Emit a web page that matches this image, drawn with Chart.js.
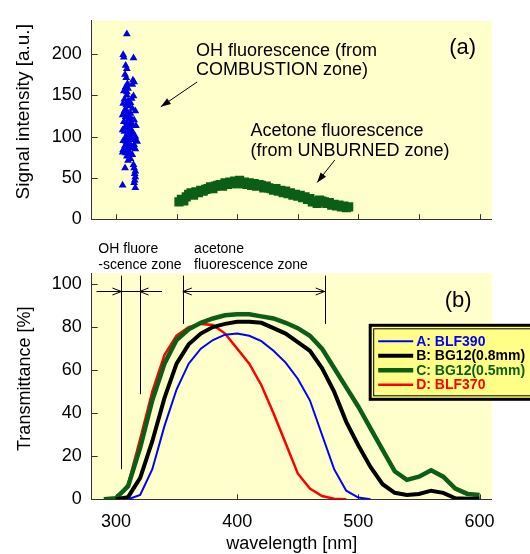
<!DOCTYPE html>
<html>
<head>
<meta charset="utf-8">
<script src="https://cdn.jsdelivr.net/npm/chart.js@4"></script>
<style>
  body { margin: 0; background: #fff; }
  #wrap { position: relative; width: 530px; height: 554px; overflow: hidden; }
  canvas { position: absolute; left: 0; }
  #chartA { top: 0; }
  #chartB { top: 240px; }
</style>
</head>
<body>
<div id="wrap">
  <canvas id="chartA" width="530" height="240"></canvas>
  <canvas id="chartB" width="530" height="314"></canvas>
</div>
<script>
// (a) OH fluorescence points (wavelength nm, signal a.u.)
const ohNm = [309, 306, 306.5, 314.5, 308, 309, 307.5, 308.5, 314, 315, 313.5, 309.5, 308, 310, 306.5, 309,
  314.5, 313, 307, 310, 306, 308.5, 311, 313.5, 316, 307, 309.5, 312, 305.5, 308, 310.5, 313, 315, 306.5,
  309, 311.5, 314, 316.5, 308, 310, 312.5, 305.5, 307, 309.5, 311, 314, 316, 308, 310.5, 313, 306, 317.5,
  309, 311.5, 315, 307.5, 310, 312.5, 316, 306, 305.5, 308, 311, 313.5, 309, 312, 310, 314.5, 307.5, 315,
  316, 315.5, 316, 315.5, 315, 305.5, 316, 310.5, 313, 308.5, 311, 313.5, 309, 311, 308, 312, 309, 311,
  314.5, 309.5];
const ohVal = [224, 199, 196, 195, 186, 182, 175, 171, 168, 166, 163, 164, 160, 158, 155, 154,
  149, 146, 145, 143, 140, 138, 137, 134, 131, 131, 129, 128, 126, 124, 122, 121, 120, 118,
  117, 116, 114, 113, 112, 110, 108, 108, 106, 104, 103, 102, 100, 99, 97, 96, 95, 94,
  92, 91, 90, 89, 87, 86, 85, 84, 81, 80, 79, 78, 76, 73, 71, 66, 62, 62,
  58, 55, 51, 47, 44, 41, 38, 83, 88, 94, 100, 106, 114, 124, 133, 141, 150, 112,
  97, 86];

// (a) acetone fluorescence points
const acNm = [352, 354, 356, 358, 360, 362, 364, 366, 368, 370, 372, 374, 376, 378, 380, 382, 384, 386, 388,
  390, 392, 394, 396, 398, 400, 402, 404, 406, 408, 410, 412, 414, 416, 418, 420, 422, 424, 426, 428,
  430, 432, 434, 436, 438, 440, 442, 444, 446, 448, 450, 452, 454, 456, 458, 460, 462, 464, 466, 468,
  470, 472, 474, 476, 478, 480, 482, 484, 486, 488, 490, 492];
const acVal = [21, 24, 22, 27, 30, 32, 29, 33, 32, 35, 34, 36, 37, 39, 37, 40, 41, 42, 40,
  44, 42, 45, 43, 46, 43, 47, 43, 45, 42, 44, 41, 43, 40, 42, 41, 38, 40, 38, 37,
  35, 37, 34, 35, 32, 34, 31, 32, 29, 30, 28, 29, 26, 27, 24, 25, 21, 22, 19, 23,
  22, 21, 19, 20, 17, 18, 16, 17, 15, 16, 14, 15];

// (b) filter transmittance curves
const wavelengths = [290, 300, 310, 320, 330, 340, 350, 360, 370, 380, 390, 400, 410, 420, 430, 440,
  450, 460, 470, 480, 490, 500, 510, 520, 530, 540, 550, 560, 570, 580, 590, 600];
const filterLabels = ['A: BLF390', 'B: BG12(0.8mm)', 'C: BG12(0.5mm)', 'D: BLF370'];
const blf390 = [null, null, 0, 2, 14, 34, 51, 63, 70, 74, 76.5, 77, 76, 73.5, 69, 63.5,
  56, 46, 30, 14, 4, 0.8, 0, null, null, null, null, null, null, null, null, null];
const bg12thick = [null, 0, 1, 10, 27, 47, 63, 72, 77, 80, 81.5, 82.5, 82.5, 82, 79.5, 77,
  73, 69, 61, 50, 36, 25, 15, 7, 3, 2, 2.5, 4, 3, 0.5, 0.3, 0.3];
const bg12thin = [0, 0.5, 6, 24, 46, 63, 74, 79, 82, 84, 85.5, 86, 86, 85, 84, 82,
  79.5, 76, 70, 61, 52, 43, 33, 23, 13, 9, 10.5, 13.5, 10.5, 5, 2.5, 2];
const blf370 = [null, 0, 7, 28, 50, 67, 76, 80, 81.5, 81, 77, 70, 63, 53, 40, 26,
  12, 5, 1.5, 0.3, 0, null, null, null, null, null, null, null, null, null, null, null];

const xTicksA = [300, 350, 400, 450, 500, 550, 600];
const xTicksB = [300, 400, 500, 600];

Chart.defaults.font.family = '"Liberation Sans", Arial, sans-serif';
Chart.defaults.color = '#000';

const FONT = '"Liberation Sans", Arial, sans-serif';
const AXIS = '#333';

function pts(xs, ys) {
  const out = [];
  xs.forEach((x, i) => { if (ys[i] !== null) out.push({ x: x, y: ys[i] }); });
  return out;
}

// light yellow plot area
const plotBg = {
  id: 'plotBg',
  beforeDraw(chart) {
    const { ctx, chartArea: a } = chart;
    ctx.save();
    ctx.fillStyle = '#ffffcc';
    ctx.fillRect(a.left, a.top, a.right - a.left, a.bottom - a.top);
    ctx.restore();
  }
};

// tick marks pointing into the plot
const innerTicks = {
  id: 'innerTicks',
  beforeDatasetsDraw(chart) {
    const { ctx, chartArea: a, scales } = chart;
    ctx.save();
    ctx.strokeStyle = AXIS;
    ctx.lineWidth = 1;
    scales.y.ticks.forEach(t => {
      const py = Math.round(scales.y.getPixelForValue(t.value)) + 0.5;
      ctx.beginPath(); ctx.moveTo(a.left, py); ctx.lineTo(a.left + 6, py); ctx.stroke();
    });
    scales.x.ticks.forEach(t => {
      const px = Math.round(scales.x.getPixelForValue(t.value)) + 0.5;
      ctx.beginPath(); ctx.moveTo(px, a.bottom); ctx.lineTo(px, a.bottom - 5); ctx.stroke();
    });
    ctx.restore();
  }
};

// rotated y axis title, centred on a chosen value
const yTitle = {
  id: 'yTitle',
  afterDraw(chart, args, opts) {
    const { ctx, scales: { y } } = chart;
    ctx.save();
    ctx.translate(opts.left, y.getPixelForValue(opts.at));
    ctx.rotate(-Math.PI / 2);
    ctx.font = opts.size + 'px ' + FONT;
    ctx.fillStyle = '#000';
    ctx.textAlign = 'center'; ctx.textBaseline = 'middle';
    ctx.fillText(opts.text, 0, 0);
    ctx.restore();
  }
};

function arrowFilled(ctx, x1, y1, x2, y2) {
  const ang = Math.atan2(y2 - y1, x2 - x1);
  ctx.beginPath(); ctx.moveTo(x1, y1); ctx.lineTo(x2, y2); ctx.stroke();
  ctx.beginPath();
  ctx.moveTo(x2, y2);
  ctx.lineTo(x2 - 10 * Math.cos(ang) + 3.5 * Math.sin(ang), y2 - 10 * Math.sin(ang) - 3.5 * Math.cos(ang));
  ctx.lineTo(x2 - 10 * Math.cos(ang) - 3.5 * Math.sin(ang), y2 - 10 * Math.sin(ang) + 3.5 * Math.cos(ang));
  ctx.closePath(); ctx.fill();
}

function openHead(ctx, x, y, dir) {
  ctx.beginPath();
  ctx.moveTo(x - dir * 9, y - 3.5); ctx.lineTo(x, y); ctx.lineTo(x - dir * 9, y + 3.5);
  ctx.stroke();
}

// annotations for (a): text anchored in data units
const notesA = [
  { x: 366, y: 203.5, text: 'OH fluorescence (from', size: 18 },
  { x: 366, y: 180.5, text: 'COMBUSTION zone)', size: 18 },
  { x: 411, y: 106.5, text: 'Acetone fluorescence', size: 18 },
  { x: 411, y: 83, text: '(from UNBURNED zone)', size: 18 },
  { x: 575, y: 207, text: '(a)', size: 22 }
];
const arrowsA = [[367, 166, 337, 136], [480.5, 71.5, 466, 44.5]];

const annotateA = {
  id: 'annotateA',
  afterDatasetsDraw(chart) {
    const { ctx, scales: { x, y } } = chart;
    ctx.save();
    ctx.fillStyle = '#000'; ctx.strokeStyle = '#000'; ctx.lineWidth = 1;
    ctx.textAlign = 'left'; ctx.textBaseline = 'middle';
    notesA.forEach(n => {
      ctx.font = n.size + 'px ' + FONT;
      ctx.fillText(n.text, x.getPixelForValue(n.x), y.getPixelForValue(n.y));
    });
    arrowsA.forEach(a => arrowFilled(ctx, x.getPixelForValue(a[0]), y.getPixelForValue(a[1]),
      x.getPixelForValue(a[2]), y.getPixelForValue(a[3])));
    ctx.restore();
  }
};

// annotations for (b)
const notesB = [
  { x: 285.5, y: 116.3, text: 'OH fluore', size: 14 },
  { x: 285.5, y: 109, text: '-scence zone', size: 14 },
  { x: 364.5, y: 116.3, text: 'acetone', size: 14 },
  { x: 364.5, y: 109, text: 'fluorescence zone', size: 14 },
  { x: 571.3, y: 92, text: '(b)', size: 22 }
];
const zoneLines = [[304.5, 14, 103.9], [319.5, 48.8, 103.9], [355.2, 81.5, 103.9], [472.2, 81.5, 103.9]];
const zoneArrowY = 97;

const annotateB = {
  id: 'annotateB',
  afterDatasetsDraw(chart) {
    const { ctx, scales: { x, y } } = chart;
    const X = v => x.getPixelForValue(v), Y = v => y.getPixelForValue(v);
    ctx.save();
    ctx.fillStyle = '#000'; ctx.strokeStyle = '#000'; ctx.lineWidth = 1;
    ctx.textAlign = 'left'; ctx.textBaseline = 'middle';
    notesB.forEach(n => {
      ctx.font = n.size + 'px ' + FONT;
      ctx.fillText(n.text, X(n.x), Y(n.y));
    });
    zoneLines.forEach(l => {
      const px = Math.round(X(l[0])) + 0.5;
      ctx.beginPath(); ctx.moveTo(px, Y(l[1])); ctx.lineTo(px, Y(l[2])); ctx.stroke();
    });
    const ay = Math.round(Y(zoneArrowY)) + 0.5;
    ctx.beginPath(); ctx.moveTo(X(284), ay); ctx.lineTo(X(338), ay); ctx.stroke();
    openHead(ctx, X(304.5), ay, 1);
    openHead(ctx, X(319.5), ay, -1);
    ctx.beginPath(); ctx.moveTo(X(355.2), ay); ctx.lineTo(X(472.2), ay); ctx.stroke();
    openHead(ctx, X(355.2), ay, -1);
    openHead(ctx, X(472.2), ay, 1);
    ctx.restore();
  }
};

// boxed legend at right of (b)
const boxLegend = {
  id: 'boxLegend',
  afterDraw(chart) {
    const { ctx, chartArea: a } = chart;
    const left = a.right - 121.5, top = a.top + 52;
    ctx.save();
    ctx.fillStyle = '#ffff88';
    ctx.fillRect(left, top, 180, 74);
    ctx.strokeStyle = '#000'; ctx.lineWidth = 3;
    ctx.strokeRect(left, top, 180, 74);
    ctx.lineWidth = 1;
    ctx.strokeRect(left + 3.5, top + 3.5, 180, 67);
    ctx.font = 'bold 14px ' + FONT;
    ctx.textBaseline = 'middle'; ctx.textAlign = 'left';
    chart.data.datasets.forEach((ds, i) => {
      const ry = top + 16 + i * 14.5;
      ctx.strokeStyle = ds.borderColor; ctx.lineWidth = ds.borderWidth;
      ctx.beginPath(); ctx.moveTo(left + 8, ry); ctx.lineTo(left + 43, ry); ctx.stroke();
      ctx.fillStyle = ds.borderColor;
      ctx.fillText(ds.label, left + 46, ry + 0.5);
    });
    ctx.restore();
  }
};

const fixedTicks = list => scale => { scale.ticks = list.map(v => ({ value: v })); };

new Chart(document.getElementById('chartA'), {
  type: 'scatter',
  data: {
    datasets: [
      {
        label: 'OH fluorescence',
        data: pts(ohNm, ohVal),
        pointStyle: 'triangle', pointRadius: 4.5,
        backgroundColor: '#0000e0', borderColor: '#0000e0', borderWidth: 0
      },
      {
        label: 'Acetone fluorescence',
        data: pts(acNm, acVal),
        pointStyle: 'rect', pointRadius: 6.5,
        backgroundColor: '#0b5e16', borderColor: '#0b5e16', borderWidth: 0
      }
    ]
  },
  options: {
    responsive: false,
    animation: false,
    devicePixelRatio: 1,
    layout: { padding: { left: 0, top: 13.3, right: 38.3, bottom: 0 } },
    plugins: {
      legend: { display: false }, tooltip: { enabled: false },
      yTitle: { text: 'Signal intensity [a.u.]', at: 130, left: 24, size: 19 }
    },
    scales: {
      x: {
        type: 'linear', min: 280, max: 610,
        afterBuildTicks: fixedTicks(xTicksA),
        afterFit: s => { s.height = 10.7; },
        ticks: { display: false },
        grid: { display: true, drawOnChartArea: false, drawTicks: false },
        border: { color: AXIS, width: 1 }
      },
      y: {
        min: 0, max: 240,
        afterBuildTicks: fixedTicks([0, 50, 100, 150, 200]),
        afterFit: s => { s.width = 91.7; },
        ticks: { padding: 10, font: { size: 18 }, color: '#000' },
        grid: { display: true, drawOnChartArea: false, drawTicks: false },
        border: { color: AXIS, width: 1 }
      }
    }
  },
  plugins: [plotBg, innerTicks, annotateA, yTitle]
});

const lineSet = (label, vals, color, width) => ({
  label: label, data: pts(wavelengths, vals),
  borderColor: color, backgroundColor: color, borderWidth: width,
  pointRadius: 0, tension: 0, fill: false
});

new Chart(document.getElementById('chartB'), {
  type: 'line',
  data: {
    datasets: [
      lineSet(filterLabels[0], blf390, '#0000ff', 2),
      lineSet(filterLabels[1], bg12thick, '#000000', 4),
      lineSet(filterLabels[2], bg12thin, '#0b5e16', 4.5),
      lineSet(filterLabels[3], blf370, '#ff0000', 2.5)
    ]
  },
  options: {
    responsive: false,
    animation: false,
    devicePixelRatio: 1,
    layout: { padding: { left: 0, top: 33.3, right: 38.3, bottom: 0 } },
    plugins: {
      legend: { display: false }, tooltip: { enabled: false },
      yTitle: { text: 'Transmittance [%]', at: 56, left: 25, size: 18 }
    },
    scales: {
      x: {
        type: 'linear', min: 280, max: 610,
        afterBuildTicks: fixedTicks(xTicksB),
        afterFit: s => { s.height = 54.7; },
        ticks: { padding: 12, font: { size: 18 }, color: '#000', maxRotation: 0 },
        grid: { display: true, drawOnChartArea: false, drawTicks: false },
        border: { color: AXIS, width: 1 },
        title: { display: true, text: 'wavelength [nm]', font: { size: 18 }, padding: { top: 0, bottom: -1 } }
      },
      y: {
        min: 0, max: 105,
        afterBuildTicks: fixedTicks([0, 20, 40, 60, 80, 100]),
        afterFit: s => { s.width = 91.7; },
        ticks: { padding: 10, font: { size: 18 }, color: '#000' },
        grid: { display: true, drawOnChartArea: false, drawTicks: false },
        border: { color: AXIS, width: 1 }
      }
    }
  },
  plugins: [plotBg, innerTicks, annotateB, boxLegend, yTitle]
});
</script>
</body>
</html>
